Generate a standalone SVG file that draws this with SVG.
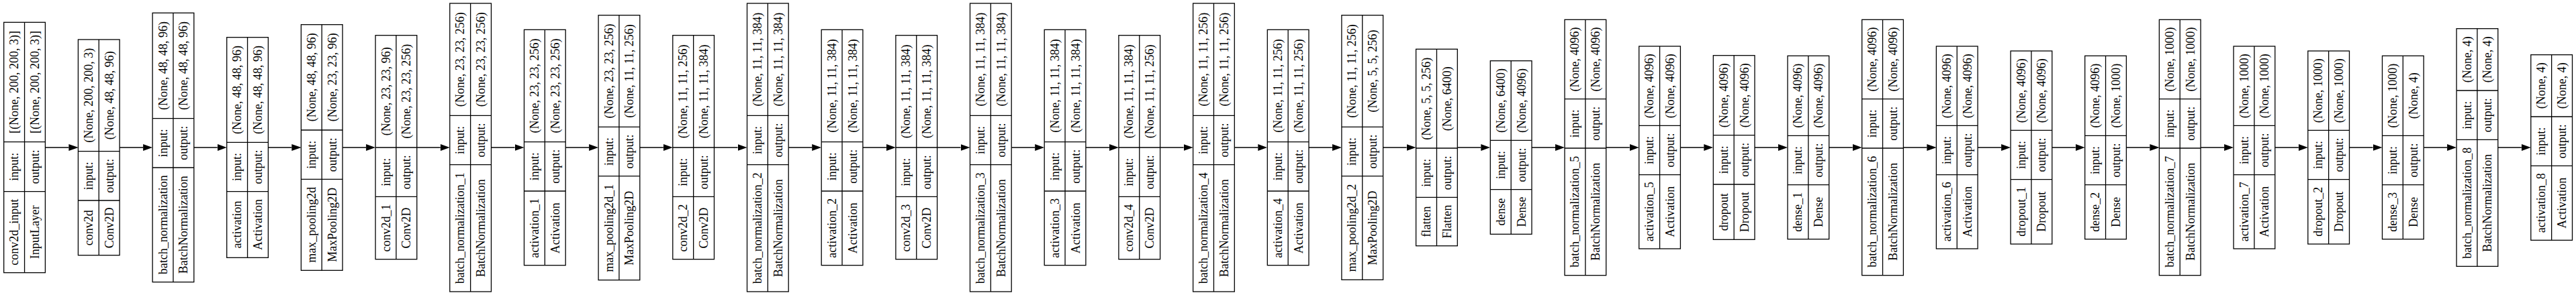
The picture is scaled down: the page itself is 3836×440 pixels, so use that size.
<svg xmlns="http://www.w3.org/2000/svg" width="3836" height="440" viewBox="0 0 3836 440">
<style>
.box{fill:#fff;stroke:#000;stroke-width:1.3}
.ln{stroke:#000;stroke-width:1.3;fill:none}
text{font-family:"Liberation Serif","Times New Roman",serif;font-size:18px;text-anchor:middle;dominant-baseline:central;fill:#000}
.edge{stroke:#000;stroke-width:1.3;fill:none;marker-end:url(#arr)}
</style>
<defs>
<marker id="arr" markerWidth="14" markerHeight="10" refX="0" refY="5" orient="auto" markerUnits="userSpaceOnUse"><path d="M0,0L14,5L0,10z" fill="#000"/></marker>
</defs>
<rect width="3836" height="440" fill="#fff"/>
<g id="edges">
<path class="edge" d="M67.4,220H102.4"/>
<path class="edge" d="M178.1,220H213.1"/>
<path class="edge" d="M288.8,220H323.7"/>
<path class="edge" d="M399.4,220H434.4"/>
<path class="edge" d="M510.1,220H545.1"/>
<path class="edge" d="M620.8,220H655.8"/>
<path class="edge" d="M731.5,220H766.5"/>
<path class="edge" d="M842.2,220H877.1"/>
<path class="edge" d="M952.8,220H987.8"/>
<path class="edge" d="M1063.5,220H1098.5"/>
<path class="edge" d="M1174.2,220H1209.2"/>
<path class="edge" d="M1284.9,220H1319.9"/>
<path class="edge" d="M1395.6,220H1430.5"/>
<path class="edge" d="M1506.2,220H1541.2"/>
<path class="edge" d="M1616.9,220H1651.9"/>
<path class="edge" d="M1727.6,220H1762.6"/>
<path class="edge" d="M1838.3,220H1873.3"/>
<path class="edge" d="M1949,220H1983.9"/>
<path class="edge" d="M2059.6,220H2094.6"/>
<path class="edge" d="M2170.3,220H2205.3"/>
<path class="edge" d="M2281,220H2316"/>
<path class="edge" d="M2391.7,220H2426.7"/>
<path class="edge" d="M2502.4,220H2537.3"/>
<path class="edge" d="M2613,220H2648"/>
<path class="edge" d="M2723.7,220H2758.7"/>
<path class="edge" d="M2834.4,220H2869.4"/>
<path class="edge" d="M2945.1,220H2980.1"/>
<path class="edge" d="M3055.8,220H3090.7"/>
<path class="edge" d="M3166.4,220H3201.4"/>
<path class="edge" d="M3277.1,220H3312.1"/>
<path class="edge" d="M3387.8,220H3422.8"/>
<path class="edge" d="M3498.5,220H3533.5"/>
<path class="edge" d="M3609.2,220H3644.1"/>
<path class="edge" d="M3719.8,220H3754.8"/>
</g>

<g id="conv2d_input" transform="translate(5.7,0)">
<rect class="box" x="0" y="33.3" width="61.7" height="373.4"/>
<path class="ln" d="M30.85,33.3V406.7M0,285.7H61.7M0,211.7H61.7"/>
<text transform="translate(15.4,346.2) rotate(-90)">conv2d_input</text>
<text transform="translate(46.3,346.2) rotate(-90)">InputLayer</text>
<text transform="translate(15.4,248.7) rotate(-90)">input:</text>
<text transform="translate(46.3,248.7) rotate(-90)">output:</text>
<text transform="translate(15.4,122.5) rotate(-90)">[(None, 200, 200, 3)]</text>
<text transform="translate(46.3,122.5) rotate(-90)">[(None, 200, 200, 3)]</text>
</g>

<g id="conv2d" transform="translate(116.4,0)">
<rect class="box" x="0" y="59" width="61.7" height="321.7"/>
<path class="ln" d="M30.85,59V380.7M0,299H61.7M0,225.7H61.7"/>
<text transform="translate(15.4,339.85) rotate(-90)">conv2d</text>
<text transform="translate(46.3,339.85) rotate(-90)">Conv2D</text>
<text transform="translate(15.4,262.35) rotate(-90)">input:</text>
<text transform="translate(46.3,262.35) rotate(-90)">output:</text>
<text transform="translate(15.4,142.35) rotate(-90)">(None, 200, 200, 3)</text>
<text transform="translate(46.3,142.35) rotate(-90)">(None, 48, 48, 96)</text>
</g>

<g id="batch_normalization" transform="translate(227.1,0)">
<rect class="box" x="0" y="19.3" width="61.7" height="401.4"/>
<path class="ln" d="M30.85,19.3V420.7M0,250H61.7M0,176.7H61.7"/>
<text transform="translate(15.4,335.35) rotate(-90)">batch_normalization</text>
<text transform="translate(46.3,335.35) rotate(-90)">BatchNormalization</text>
<text transform="translate(15.4,213.35) rotate(-90)">input:</text>
<text transform="translate(46.3,213.35) rotate(-90)">output:</text>
<text transform="translate(15.4,98) rotate(-90)">(None, 48, 48, 96)</text>
<text transform="translate(46.3,98) rotate(-90)">(None, 48, 48, 96)</text>
</g>

<g id="activation" transform="translate(337.7,0)">
<rect class="box" x="0" y="55.7" width="61.7" height="328.6"/>
<path class="ln" d="M30.85,55.7V384.3M0,285.7H61.7M0,212.3H61.7"/>
<text transform="translate(15.4,335) rotate(-90)">activation</text>
<text transform="translate(46.3,335) rotate(-90)">Activation</text>
<text transform="translate(15.4,249) rotate(-90)">input:</text>
<text transform="translate(46.3,249) rotate(-90)">output:</text>
<text transform="translate(15.4,134) rotate(-90)">(None, 48, 48, 96)</text>
<text transform="translate(46.3,134) rotate(-90)">(None, 48, 48, 96)</text>
</g>

<g id="max_pooling2d" transform="translate(448.4,0)">
<rect class="box" x="0" y="36.7" width="61.7" height="366.6"/>
<path class="ln" d="M30.85,36.7V403.3M0,267.3H61.7M0,194H61.7"/>
<text transform="translate(15.4,335.3) rotate(-90)">max_pooling2d</text>
<text transform="translate(46.3,335.3) rotate(-90)">MaxPooling2D</text>
<text transform="translate(15.4,230.65) rotate(-90)">input:</text>
<text transform="translate(46.3,230.65) rotate(-90)">output:</text>
<text transform="translate(15.4,115.35) rotate(-90)">(None, 48, 48, 96)</text>
<text transform="translate(46.3,115.35) rotate(-90)">(None, 23, 23, 96)</text>
</g>

<g id="conv2d_1" transform="translate(559.1,0)">
<rect class="box" x="0" y="52.7" width="61.7" height="334"/>
<path class="ln" d="M30.85,52.7V386.7M0,293.3H61.7M0,220H61.7"/>
<text transform="translate(15.4,340) rotate(-90)">conv2d_1</text>
<text transform="translate(46.3,340) rotate(-90)">Conv2D</text>
<text transform="translate(15.4,256.65) rotate(-90)">input:</text>
<text transform="translate(46.3,256.65) rotate(-90)">output:</text>
<text transform="translate(15.4,136.35) rotate(-90)">(None, 23, 23, 96)</text>
<text transform="translate(46.3,136.35) rotate(-90)">(None, 23, 23, 256)</text>
</g>

<g id="batch_normalization_1" transform="translate(669.8,0)">
<rect class="box" x="0" y="5" width="61.7" height="430"/>
<path class="ln" d="M30.85,5V435M0,245.7H61.7M0,172.3H61.7"/>
<text transform="translate(15.4,340.35) rotate(-90)">batch_normalization_1</text>
<text transform="translate(46.3,340.35) rotate(-90)">BatchNormalization</text>
<text transform="translate(15.4,209) rotate(-90)">input:</text>
<text transform="translate(46.3,209) rotate(-90)">output:</text>
<text transform="translate(15.4,88.65) rotate(-90)">(None, 23, 23, 256)</text>
<text transform="translate(46.3,88.65) rotate(-90)">(None, 23, 23, 256)</text>
</g>

<g id="activation_1" transform="translate(780.5,0)">
<rect class="box" x="0" y="44.3" width="61.7" height="351.4"/>
<path class="ln" d="M30.85,44.3V395.7M0,285H61.7M0,211.7H61.7"/>
<text transform="translate(15.4,340.35) rotate(-90)">activation_1</text>
<text transform="translate(46.3,340.35) rotate(-90)">Activation</text>
<text transform="translate(15.4,248.35) rotate(-90)">input:</text>
<text transform="translate(46.3,248.35) rotate(-90)">output:</text>
<text transform="translate(15.4,128) rotate(-90)">(None, 23, 23, 256)</text>
<text transform="translate(46.3,128) rotate(-90)">(None, 23, 23, 256)</text>
</g>

<g id="max_pooling2d_1" transform="translate(891.1,0)">
<rect class="box" x="0" y="22.7" width="61.7" height="395"/>
<path class="ln" d="M30.85,22.7V417.7M0,262.7H61.7M0,189.3H61.7"/>
<text transform="translate(15.4,340.2) rotate(-90)">max_pooling2d_1</text>
<text transform="translate(46.3,340.2) rotate(-90)">MaxPooling2D</text>
<text transform="translate(15.4,226) rotate(-90)">input:</text>
<text transform="translate(46.3,226) rotate(-90)">output:</text>
<text transform="translate(15.4,106) rotate(-90)">(None, 23, 23, 256)</text>
<text transform="translate(46.3,106) rotate(-90)">(None, 11, 11, 256)</text>
</g>

<g id="conv2d_2" transform="translate(1001.8,0)">
<rect class="box" x="0" y="52.7" width="61.7" height="334"/>
<path class="ln" d="M30.85,52.7V386.7M0,293.3H61.7M0,220H61.7"/>
<text transform="translate(15.4,340) rotate(-90)">conv2d_2</text>
<text transform="translate(46.3,340) rotate(-90)">Conv2D</text>
<text transform="translate(15.4,256.65) rotate(-90)">input:</text>
<text transform="translate(46.3,256.65) rotate(-90)">output:</text>
<text transform="translate(15.4,136.35) rotate(-90)">(None, 11, 11, 256)</text>
<text transform="translate(46.3,136.35) rotate(-90)">(None, 11, 11, 384)</text>
</g>

<g id="batch_normalization_2" transform="translate(1112.5,0)">
<rect class="box" x="0" y="5" width="61.7" height="430"/>
<path class="ln" d="M30.85,5V435M0,245.7H61.7M0,172.3H61.7"/>
<text transform="translate(15.4,340.35) rotate(-90)">batch_normalization_2</text>
<text transform="translate(46.3,340.35) rotate(-90)">BatchNormalization</text>
<text transform="translate(15.4,209) rotate(-90)">input:</text>
<text transform="translate(46.3,209) rotate(-90)">output:</text>
<text transform="translate(15.4,88.65) rotate(-90)">(None, 11, 11, 384)</text>
<text transform="translate(46.3,88.65) rotate(-90)">(None, 11, 11, 384)</text>
</g>

<g id="activation_2" transform="translate(1223.2,0)">
<rect class="box" x="0" y="44.3" width="61.7" height="351.4"/>
<path class="ln" d="M30.85,44.3V395.7M0,285H61.7M0,211.7H61.7"/>
<text transform="translate(15.4,340.35) rotate(-90)">activation_2</text>
<text transform="translate(46.3,340.35) rotate(-90)">Activation</text>
<text transform="translate(15.4,248.35) rotate(-90)">input:</text>
<text transform="translate(46.3,248.35) rotate(-90)">output:</text>
<text transform="translate(15.4,128) rotate(-90)">(None, 11, 11, 384)</text>
<text transform="translate(46.3,128) rotate(-90)">(None, 11, 11, 384)</text>
</g>

<g id="conv2d_3" transform="translate(1333.9,0)">
<rect class="box" x="0" y="52.7" width="61.7" height="334"/>
<path class="ln" d="M30.85,52.7V386.7M0,293.3H61.7M0,220H61.7"/>
<text transform="translate(15.4,340) rotate(-90)">conv2d_3</text>
<text transform="translate(46.3,340) rotate(-90)">Conv2D</text>
<text transform="translate(15.4,256.65) rotate(-90)">input:</text>
<text transform="translate(46.3,256.65) rotate(-90)">output:</text>
<text transform="translate(15.4,136.35) rotate(-90)">(None, 11, 11, 384)</text>
<text transform="translate(46.3,136.35) rotate(-90)">(None, 11, 11, 384)</text>
</g>

<g id="batch_normalization_3" transform="translate(1444.5,0)">
<rect class="box" x="0" y="5" width="61.7" height="430"/>
<path class="ln" d="M30.85,5V435M0,245.7H61.7M0,172.3H61.7"/>
<text transform="translate(15.4,340.35) rotate(-90)">batch_normalization_3</text>
<text transform="translate(46.3,340.35) rotate(-90)">BatchNormalization</text>
<text transform="translate(15.4,209) rotate(-90)">input:</text>
<text transform="translate(46.3,209) rotate(-90)">output:</text>
<text transform="translate(15.4,88.65) rotate(-90)">(None, 11, 11, 384)</text>
<text transform="translate(46.3,88.65) rotate(-90)">(None, 11, 11, 384)</text>
</g>

<g id="activation_3" transform="translate(1555.2,0)">
<rect class="box" x="0" y="44.3" width="61.7" height="351.4"/>
<path class="ln" d="M30.85,44.3V395.7M0,285H61.7M0,211.7H61.7"/>
<text transform="translate(15.4,340.35) rotate(-90)">activation_3</text>
<text transform="translate(46.3,340.35) rotate(-90)">Activation</text>
<text transform="translate(15.4,248.35) rotate(-90)">input:</text>
<text transform="translate(46.3,248.35) rotate(-90)">output:</text>
<text transform="translate(15.4,128) rotate(-90)">(None, 11, 11, 384)</text>
<text transform="translate(46.3,128) rotate(-90)">(None, 11, 11, 384)</text>
</g>

<g id="conv2d_4" transform="translate(1665.9,0)">
<rect class="box" x="0" y="52.7" width="61.7" height="334"/>
<path class="ln" d="M30.85,52.7V386.7M0,293.3H61.7M0,220H61.7"/>
<text transform="translate(15.4,340) rotate(-90)">conv2d_4</text>
<text transform="translate(46.3,340) rotate(-90)">Conv2D</text>
<text transform="translate(15.4,256.65) rotate(-90)">input:</text>
<text transform="translate(46.3,256.65) rotate(-90)">output:</text>
<text transform="translate(15.4,136.35) rotate(-90)">(None, 11, 11, 384)</text>
<text transform="translate(46.3,136.35) rotate(-90)">(None, 11, 11, 256)</text>
</g>

<g id="batch_normalization_4" transform="translate(1776.6,0)">
<rect class="box" x="0" y="5" width="61.7" height="430"/>
<path class="ln" d="M30.85,5V435M0,245.7H61.7M0,172.3H61.7"/>
<text transform="translate(15.4,340.35) rotate(-90)">batch_normalization_4</text>
<text transform="translate(46.3,340.35) rotate(-90)">BatchNormalization</text>
<text transform="translate(15.4,209) rotate(-90)">input:</text>
<text transform="translate(46.3,209) rotate(-90)">output:</text>
<text transform="translate(15.4,88.65) rotate(-90)">(None, 11, 11, 256)</text>
<text transform="translate(46.3,88.65) rotate(-90)">(None, 11, 11, 256)</text>
</g>

<g id="activation_4" transform="translate(1887.3,0)">
<rect class="box" x="0" y="44.3" width="61.7" height="351.4"/>
<path class="ln" d="M30.85,44.3V395.7M0,285H61.7M0,211.7H61.7"/>
<text transform="translate(15.4,340.35) rotate(-90)">activation_4</text>
<text transform="translate(46.3,340.35) rotate(-90)">Activation</text>
<text transform="translate(15.4,248.35) rotate(-90)">input:</text>
<text transform="translate(46.3,248.35) rotate(-90)">output:</text>
<text transform="translate(15.4,128) rotate(-90)">(None, 11, 11, 256)</text>
<text transform="translate(46.3,128) rotate(-90)">(None, 11, 11, 256)</text>
</g>

<g id="max_pooling2d_2" transform="translate(1997.9,0)">
<rect class="box" x="0" y="22.7" width="61.7" height="394.6"/>
<path class="ln" d="M30.85,22.7V417.3M0,262.7H61.7M0,189.3H61.7"/>
<text transform="translate(15.4,340) rotate(-90)">max_pooling2d_2</text>
<text transform="translate(46.3,340) rotate(-90)">MaxPooling2D</text>
<text transform="translate(15.4,226) rotate(-90)">input:</text>
<text transform="translate(46.3,226) rotate(-90)">output:</text>
<text transform="translate(15.4,106) rotate(-90)">(None, 11, 11, 256)</text>
<text transform="translate(46.3,106) rotate(-90)">(None, 5, 5, 256)</text>
</g>

<g id="flatten" transform="translate(2108.6,0)">
<rect class="box" x="0" y="73.3" width="61.7" height="293.4"/>
<path class="ln" d="M30.85,73.3V366.7M0,294.3H61.7M0,221H61.7"/>
<text transform="translate(15.4,330.5) rotate(-90)">flatten</text>
<text transform="translate(46.3,330.5) rotate(-90)">Flatten</text>
<text transform="translate(15.4,257.65) rotate(-90)">input:</text>
<text transform="translate(46.3,257.65) rotate(-90)">output:</text>
<text transform="translate(15.4,147.15) rotate(-90)">(None, 5, 5, 256)</text>
<text transform="translate(46.3,147.15) rotate(-90)">(None, 6400)</text>
</g>

<g id="dense" transform="translate(2219.3,0)">
<rect class="box" x="0" y="90.7" width="61.7" height="258.6"/>
<path class="ln" d="M30.85,90.7V349.3M0,282.7H61.7M0,209.3H61.7"/>
<text transform="translate(15.4,316) rotate(-90)">dense</text>
<text transform="translate(46.3,316) rotate(-90)">Dense</text>
<text transform="translate(15.4,246) rotate(-90)">input:</text>
<text transform="translate(46.3,246) rotate(-90)">output:</text>
<text transform="translate(15.4,150) rotate(-90)">(None, 6400)</text>
<text transform="translate(46.3,150) rotate(-90)">(None, 4096)</text>
</g>

<g id="batch_normalization_5" transform="translate(2330,0)">
<rect class="box" x="0" y="29.3" width="61.7" height="381.4"/>
<path class="ln" d="M30.85,29.3V410.7M0,221H61.7M0,147.7H61.7"/>
<text transform="translate(15.4,315.85) rotate(-90)">batch_normalization_5</text>
<text transform="translate(46.3,315.85) rotate(-90)">BatchNormalization</text>
<text transform="translate(15.4,184.35) rotate(-90)">input:</text>
<text transform="translate(46.3,184.35) rotate(-90)">output:</text>
<text transform="translate(15.4,88.5) rotate(-90)">(None, 4096)</text>
<text transform="translate(46.3,88.5) rotate(-90)">(None, 4096)</text>
</g>

<g id="activation_5" transform="translate(2440.7,0)">
<rect class="box" x="0" y="69" width="61.7" height="302"/>
<path class="ln" d="M30.85,69V371M0,260.7H61.7M0,187.3H61.7"/>
<text transform="translate(15.4,315.85) rotate(-90)">activation_5</text>
<text transform="translate(46.3,315.85) rotate(-90)">Activation</text>
<text transform="translate(15.4,224) rotate(-90)">input:</text>
<text transform="translate(46.3,224) rotate(-90)">output:</text>
<text transform="translate(15.4,128.15) rotate(-90)">(None, 4096)</text>
<text transform="translate(46.3,128.15) rotate(-90)">(None, 4096)</text>
</g>

<g id="dropout" transform="translate(2551.3,0)">
<rect class="box" x="0" y="82.7" width="61.7" height="274.6"/>
<path class="ln" d="M30.85,82.7V357.3M0,275H61.7M0,201.7H61.7"/>
<text transform="translate(15.4,316.15) rotate(-90)">dropout</text>
<text transform="translate(46.3,316.15) rotate(-90)">Dropout</text>
<text transform="translate(15.4,238.35) rotate(-90)">input:</text>
<text transform="translate(46.3,238.35) rotate(-90)">output:</text>
<text transform="translate(15.4,142.2) rotate(-90)">(None, 4096)</text>
<text transform="translate(46.3,142.2) rotate(-90)">(None, 4096)</text>
</g>

<g id="dense_1" transform="translate(2662,0)">
<rect class="box" x="0" y="83.3" width="61.7" height="273.4"/>
<path class="ln" d="M30.85,83.3V356.7M0,275.7H61.7M0,202.3H61.7"/>
<text transform="translate(15.4,316.2) rotate(-90)">dense_1</text>
<text transform="translate(46.3,316.2) rotate(-90)">Dense</text>
<text transform="translate(15.4,239) rotate(-90)">input:</text>
<text transform="translate(46.3,239) rotate(-90)">output:</text>
<text transform="translate(15.4,142.8) rotate(-90)">(None, 4096)</text>
<text transform="translate(46.3,142.8) rotate(-90)">(None, 4096)</text>
</g>

<g id="batch_normalization_6" transform="translate(2772.7,0)">
<rect class="box" x="0" y="29.3" width="61.7" height="381.4"/>
<path class="ln" d="M30.85,29.3V410.7M0,221H61.7M0,147.7H61.7"/>
<text transform="translate(15.4,315.85) rotate(-90)">batch_normalization_6</text>
<text transform="translate(46.3,315.85) rotate(-90)">BatchNormalization</text>
<text transform="translate(15.4,184.35) rotate(-90)">input:</text>
<text transform="translate(46.3,184.35) rotate(-90)">output:</text>
<text transform="translate(15.4,88.5) rotate(-90)">(None, 4096)</text>
<text transform="translate(46.3,88.5) rotate(-90)">(None, 4096)</text>
</g>

<g id="activation_6" transform="translate(2883.4,0)">
<rect class="box" x="0" y="69" width="61.7" height="302"/>
<path class="ln" d="M30.85,69V371M0,260.7H61.7M0,187.3H61.7"/>
<text transform="translate(15.4,315.85) rotate(-90)">activation_6</text>
<text transform="translate(46.3,315.85) rotate(-90)">Activation</text>
<text transform="translate(15.4,224) rotate(-90)">input:</text>
<text transform="translate(46.3,224) rotate(-90)">output:</text>
<text transform="translate(15.4,128.15) rotate(-90)">(None, 4096)</text>
<text transform="translate(46.3,128.15) rotate(-90)">(None, 4096)</text>
</g>

<g id="dropout_1" transform="translate(2994.1,0)">
<rect class="box" x="0" y="76" width="61.7" height="288"/>
<path class="ln" d="M30.85,76V364M0,267.7H61.7M0,194.3H61.7"/>
<text transform="translate(15.4,315.85) rotate(-90)">dropout_1</text>
<text transform="translate(46.3,315.85) rotate(-90)">Dropout</text>
<text transform="translate(15.4,231) rotate(-90)">input:</text>
<text transform="translate(46.3,231) rotate(-90)">output:</text>
<text transform="translate(15.4,135.15) rotate(-90)">(None, 4096)</text>
<text transform="translate(46.3,135.15) rotate(-90)">(None, 4096)</text>
</g>

<g id="dense_2" transform="translate(3104.7,0)">
<rect class="box" x="0" y="83.3" width="61.7" height="273.4"/>
<path class="ln" d="M30.85,83.3V356.7M0,275.7H61.7M0,202.3H61.7"/>
<text transform="translate(15.4,316.2) rotate(-90)">dense_2</text>
<text transform="translate(46.3,316.2) rotate(-90)">Dense</text>
<text transform="translate(15.4,239) rotate(-90)">input:</text>
<text transform="translate(46.3,239) rotate(-90)">output:</text>
<text transform="translate(15.4,142.8) rotate(-90)">(None, 4096)</text>
<text transform="translate(46.3,142.8) rotate(-90)">(None, 1000)</text>
</g>

<g id="batch_normalization_7" transform="translate(3215.4,0)">
<rect class="box" x="0" y="29.3" width="61.7" height="381.4"/>
<path class="ln" d="M30.85,29.3V410.7M0,221H61.7M0,147.7H61.7"/>
<text transform="translate(15.4,315.85) rotate(-90)">batch_normalization_7</text>
<text transform="translate(46.3,315.85) rotate(-90)">BatchNormalization</text>
<text transform="translate(15.4,184.35) rotate(-90)">input:</text>
<text transform="translate(46.3,184.35) rotate(-90)">output:</text>
<text transform="translate(15.4,88.5) rotate(-90)">(None, 1000)</text>
<text transform="translate(46.3,88.5) rotate(-90)">(None, 1000)</text>
</g>

<g id="activation_7" transform="translate(3326.1,0)">
<rect class="box" x="0" y="69" width="61.7" height="302"/>
<path class="ln" d="M30.85,69V371M0,260.7H61.7M0,187.3H61.7"/>
<text transform="translate(15.4,315.85) rotate(-90)">activation_7</text>
<text transform="translate(46.3,315.85) rotate(-90)">Activation</text>
<text transform="translate(15.4,224) rotate(-90)">input:</text>
<text transform="translate(46.3,224) rotate(-90)">output:</text>
<text transform="translate(15.4,128.15) rotate(-90)">(None, 1000)</text>
<text transform="translate(46.3,128.15) rotate(-90)">(None, 1000)</text>
</g>

<g id="dropout_2" transform="translate(3436.8,0)">
<rect class="box" x="0" y="76" width="61.7" height="288"/>
<path class="ln" d="M30.85,76V364M0,267.7H61.7M0,194.3H61.7"/>
<text transform="translate(15.4,315.85) rotate(-90)">dropout_2</text>
<text transform="translate(46.3,315.85) rotate(-90)">Dropout</text>
<text transform="translate(15.4,231) rotate(-90)">input:</text>
<text transform="translate(46.3,231) rotate(-90)">output:</text>
<text transform="translate(15.4,135.15) rotate(-90)">(None, 1000)</text>
<text transform="translate(46.3,135.15) rotate(-90)">(None, 1000)</text>
</g>

<g id="dense_3" transform="translate(3547.5,0)">
<rect class="box" x="0" y="83.3" width="61.7" height="273.4"/>
<path class="ln" d="M30.85,83.3V356.7M0,275.7H61.7M0,202.3H61.7"/>
<text transform="translate(15.4,316.2) rotate(-90)">dense_3</text>
<text transform="translate(46.3,316.2) rotate(-90)">Dense</text>
<text transform="translate(15.4,239) rotate(-90)">input:</text>
<text transform="translate(46.3,239) rotate(-90)">output:</text>
<text transform="translate(15.4,142.8) rotate(-90)">(None, 1000)</text>
<text transform="translate(46.3,142.8) rotate(-90)">(None, 4)</text>
</g>

<g id="batch_normalization_8" transform="translate(3658.1,0)">
<rect class="box" x="0" y="42.7" width="61.7" height="354.6"/>
<path class="ln" d="M30.85,42.7V397.3M0,208.3H61.7M0,135H61.7"/>
<text transform="translate(15.4,302.8) rotate(-90)">batch_normalization_8</text>
<text transform="translate(46.3,302.8) rotate(-90)">BatchNormalization</text>
<text transform="translate(15.4,171.65) rotate(-90)">input:</text>
<text transform="translate(46.3,171.65) rotate(-90)">output:</text>
<text transform="translate(15.4,88.85) rotate(-90)">(None, 4)</text>
<text transform="translate(46.3,88.85) rotate(-90)">(None, 4)</text>
</g>

<g id="activation_8" transform="translate(3768.8,0)">
<rect class="box" x="0" y="81.7" width="61.7" height="276.6"/>
<path class="ln" d="M30.85,81.7V358.3M0,247.3H61.7M0,174H61.7"/>
<text transform="translate(15.4,302.8) rotate(-90)">activation_8</text>
<text transform="translate(46.3,302.8) rotate(-90)">Activation</text>
<text transform="translate(15.4,210.65) rotate(-90)">input:</text>
<text transform="translate(46.3,210.65) rotate(-90)">output:</text>
<text transform="translate(15.4,127.85) rotate(-90)">(None, 4)</text>
<text transform="translate(46.3,127.85) rotate(-90)">(None, 4)</text>
</g>
</svg>
